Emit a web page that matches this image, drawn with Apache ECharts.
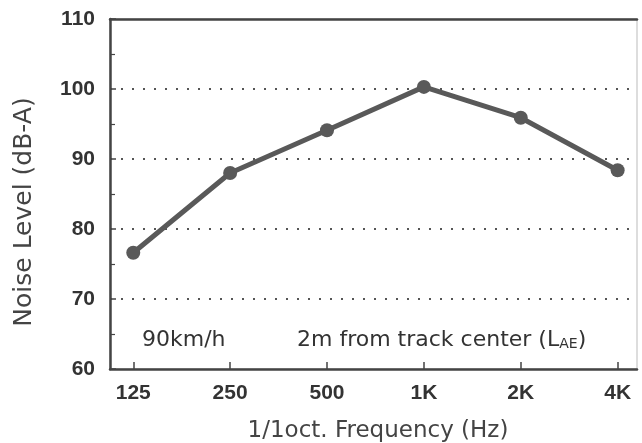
<!DOCTYPE html>
<html><head><meta charset="utf-8">
<script src="https://cdn.jsdelivr.net/npm/echarts@6/dist/echarts.min.js"></script>
<style>html,body{margin:0;padding:0;background:#fff}#c{width:642px;height:443px}</style>
</head><body><div id="c"></div>
<script>
const categories = ['125', '250', '500', '1K', '2K', '4K'];
const noiseLevel = [76.6, 88.0, 94.1, 100.3, 95.9, 88.4];
const yTicks = [60, 70, 80, 90, 100, 110];
const speedLabel = '90km/h';
const positionLabel = '2m from track center';
const xName = '1/1oct. Frequency (Hz)';
const yName = 'Noise Level (dB-A)';

const idx = categories.map((_, i) => i);
const seriesData = noiseLevel.map((v, i) => [i, v]);
const chart = echarts.init(document.getElementById('c'));
const lab = {color: '#333', fontFamily: 'Liberation Sans', fontWeight: 'bold', fontSize: 21};
const nameFont = '"DejaVu Sans"';
chart.setOption({
  animation: false,
  grid: {left: 110, right: 5, top: 19, bottom: 74, show: true, borderColor: '#bbb', borderWidth: 1},
  xAxis: [{
    type: 'value', min: -0.24, max: 5.2,
    axisLine: {show: true, onZero: false, lineStyle: {color: '#444', width: 2.5}},
    axisTick: {show: true, inside: true, length: 7, customValues: idx, lineStyle: {color: '#444', width: 1.5}},
    axisLabel: Object.assign({customValues: idx, margin: 14, formatter: v => categories[Math.round(v)]}, lab),
    splitLine: {show: false}
  }, {
    type: 'value', position: 'top', min: -0.24, max: 5.2,
    axisLine: {show: true, onZero: false, lineStyle: {color: '#444', width: 2.5}},
    axisTick: {show: false}, axisLabel: {show: false}, splitLine: {show: false}
  }],
  yAxis: {
    type: 'value', min: 60, max: 110, interval: 10,
    axisLine: {show: true, onZero: false, lineStyle: {color: '#444', width: 2.5}},
    axisTick: {show: true, inside: true, length: 6, lineStyle: {color: '#444', width: 1.5}},
    minorTick: {show: true, splitNumber: 2, length: 5, lineStyle: {color: '#444', width: 1.2}},
    axisLabel: Object.assign({margin: 15}, lab),
    splitLine: {show: true, lineStyle: {color: '#555', width: 2, type: [2, 9]}, showMinLine: false, showMaxLine: false}
  },
  series: [{
    type: 'line', data: seriesData, xAxisIndex: 0,
    lineStyle: {color: '#595959', width: 5},
    itemStyle: {color: '#595959'},
    symbol: 'circle', symbolSize: 14
  }],
  graphic: [
    {type: 'text', x: 24, y: 212, rotation: Math.PI / 2, style: {
      text: yName, fill: '#444', font: '25px ' + nameFont, align: 'center', verticalAlign: 'middle'}},
    {type: 'text', x: 378, y: 431, style: {
      text: xName, fill: '#444', font: '23px ' + nameFont, align: 'center', verticalAlign: 'middle'}},
    {type: 'text', x: 142, y: 340, style: {text: speedLabel, fill: '#333', font: '22px ' + nameFont, verticalAlign: 'middle'}},
    {type: 'text', x: 297, y: 340, style: {
      text: positionLabel + ' (L{s|AE})',
      rich: {s: {fontSize: 14, fill: '#333', fontFamily: 'DejaVu Sans', padding: [8, 0, 0, 0]}},
      fill: '#333', font: '22px ' + nameFont, verticalAlign: 'middle'}}
  ]
});
</script></body></html>
